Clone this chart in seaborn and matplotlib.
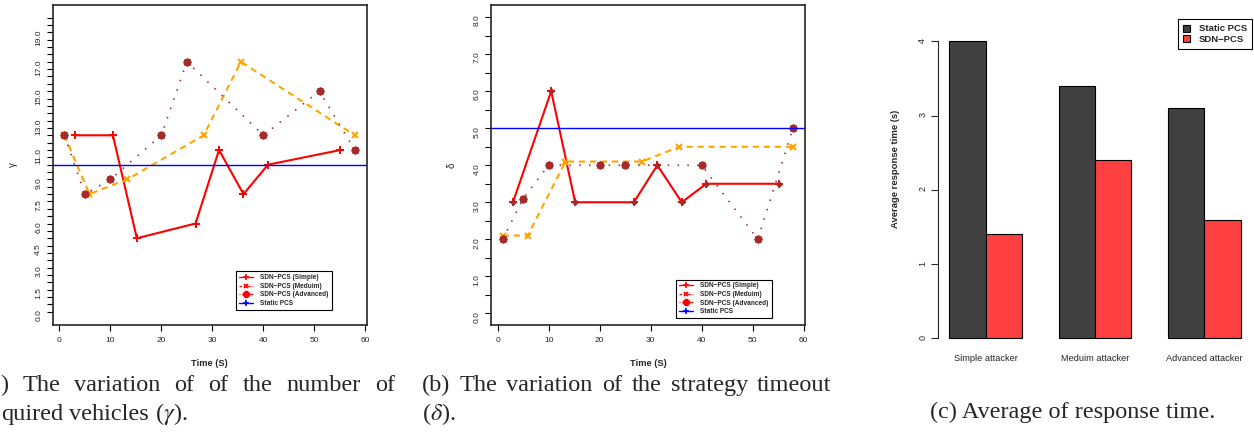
import numpy as np
import pandas as pd
import matplotlib
matplotlib.use("Agg")
import matplotlib.pyplot as plt
import seaborn as sns
from matplotlib.lines import Line2D
from matplotlib.patches import Patch
from matplotlib.ticker import FixedLocator, FuncFormatter

# ---- data ----
simple_t = [3, 10.5, 15.2, 26.7, 31.3, 36.1, 40.9, 55.1]
medium_t = [1, 5.9, 13.3, 28.3, 35.6, 57.9]
advanced_t = [1, 5, 10, 20, 25, 40, 51, 57.9]

gamma_simple = [12, 12, 5, 6, 11, 8, 10, 11]
gamma_medium = [12, 8, 9, 12, 17, 12]
gamma_advanced = [12, 8, 9, 12, 17, 12, 15, 11]
gamma_static = 10

delta_simple = [3, 6, 3, 3, 4, 3, 3.5, 3.5]
delta_medium = [2.1, 2.1, 4.1, 4.1, 4.5, 4.5]
delta_advanced = [2, 3.1, 4, 4, 4, 4, 2, 5]
delta_static = 5

gamma_tick_labels = ['0.0', '1.5', '3.0', '4.5', '6.0', '7.5', '9.0',
                     '11.0', '13.0', '15.0', '17.0', '19.0']
delta_tick_labels = ['0.0', '1.0', '2.0', '3.0', '4.0', '5.0', '6.0', '7.0', '8.0']

attackers = ['Simple attacker', 'Meduim attacker', 'Advanced attacker']
static_resp = [4.0, 3.4, 3.1]
sdn_resp = [1.4, 2.4, 1.6]

series_names = ['SDN\u2212PCS (Simple)', 'SDN\u2212PCS (Meduim)',
                'SDN\u2212PCS (Advanced)', 'Static PCS']

W, H = 1254, 441
sns.set_style("ticks")
plt.rcParams['font.family'] = ['Liberation Sans', 'DejaVu Sans']
plt.rcParams['mathtext.fontset'] = 'stix'

fig = plt.figure(figsize=(W / 100, H / 100), dpi=100)


def px_axes(x0, y0, x1, y1):
    return fig.add_axes([x0 / W, 1 - y1 / H, (x1 - x0) / W, (y1 - y0) / H])


def draw_lines(ax, ys, static, diamond=False):
    s, m, a = ys
    sns.lineplot(x=simple_t, y=s, ax=ax, color='red', linewidth=1.5,
                 marker='+', markersize=6, markeredgewidth=1.4,
                 markeredgecolor='red', errorbar=None, zorder=3)
    if diamond:
        ax.plot(simple_t, s, 'D', color='brown', markersize=2.6, zorder=4)
    sns.lineplot(x=medium_t, y=m, ax=ax, color='orange', linewidth=1.5,
                 linestyle=(0, (3, 2.3)), marker='x', markersize=4.5,
                 markeredgewidth=1.5, markeredgecolor='orange',
                 errorbar=None, zorder=3)
    sns.lineplot(x=advanced_t, y=a, ax=ax, color='brown', linewidth=1.2,
                 linestyle=(0, (0.9, 5)), marker=(8, 1, 0), markersize=7,
                 markeredgewidth=0, markerfacecolor='brown',
                 errorbar=None, zorder=3)
    ax.plot(advanced_t, a, 'o', color='brown', markersize=4.8, zorder=3)
    ax.axhline(static, color='blue', linewidth=1.0, zorder=5)


def legend_lines(ax, anchor):
    handles = [
        Line2D([], [], color='red', lw=1.0, marker='+', ms=5, mew=1.2),
        Line2D([], [], color='red', lw=0.9, ls=(0, (2, 1.5)), marker='x',
               ms=3.5, mew=1.3),
        Line2D([], [], color='red', lw=0.9, ls=(0, (0.8, 1.5, 2.5, 1.5)),
               marker='8', ms=4),
        Line2D([], [], color='blue', lw=1.0, marker='+', ms=5, mew=1.2),
    ]
    leg = ax.legend(handles, series_names, loc='lower left', bbox_to_anchor=anchor,
                    borderaxespad=0, prop={'weight': 'bold', 'size': 4.7},
                    frameon=True, fancybox=False, edgecolor='black', framealpha=1,
                    handlelength=2.2, handletextpad=1.1, labelspacing=0.25,
                    borderpad=0.45)
    leg.get_frame().set_linewidth(0.8)


def style_line_axes(ax, ylim, yticks, label_vals, labels, ylab):
    ax.set_xlim(-1.3, 60.25)
    ax.set_ylim(*ylim)
    ax.set_xticks(range(0, 61, 10))
    ax.yaxis.set_major_locator(FixedLocator(yticks))
    lab = {round(v, 2): t for v, t in zip(label_vals, labels)}
    ax.yaxis.set_major_formatter(FuncFormatter(lambda v, p: lab.get(round(v, 2), '')))
    ax.tick_params(axis='both', length=4, width=0.8, labelsize=6, color='black')
    ax.tick_params(axis='y', labelrotation=90, pad=3.5)
    ax.tick_params(axis='x', pad=5)
    for sp in ax.spines.values():
        sp.set_visible(True)
        sp.set_linewidth(1.2)
    ax.set_xlabel('Time (S)', fontsize=6.7, fontweight='bold')
    ax.xaxis.label.set_va('center')
    ax.xaxis.set_label_coords(0.5, -0.119)
    ax.set_ylabel(ylab, fontsize=7)
    ax.yaxis.label.set_va('center')


# (a) gamma
ax_a = px_axes(52.7, 5, 366.7, 325)
draw_lines(ax_a, (gamma_simple, gamma_medium, gamma_advanced), gamma_static)
style_line_axes(ax_a, (-0.9, 20.86), np.arange(0, 20.01, 0.5),
                [float(t) for t in gamma_tick_labels], gamma_tick_labels, '\u03b3')
ax_a.yaxis.set_label_coords((13 - 52.7) / 314, 0.5)
legend_lines(ax_a, ((236 - 52.7) / 314, (325 - 310) / 320))

# (b) delta
ax_b = px_axes(491, 5, 805, 325)
draw_lines(ax_b, (delta_simple, delta_medium, delta_advanced), delta_static, diamond=True)
style_line_axes(ax_b, (-0.316, 8.33), np.arange(0, 8.01, 0.5),
                [float(t) for t in delta_tick_labels], delta_tick_labels, '\u03b4')
ax_b.yaxis.set_label_coords((452 - 491) / 314, 0.5)
legend_lines(ax_b, ((676 - 491) / 314, (325 - 318.3) / 320))

# (c) response time bars
resp = pd.DataFrame({
    'attacker': attackers * 2,
    'system': ['Static PCS'] * 3 + ['SDN\u2212PCS'] * 3,
    'time': static_resp + sdn_resp,
})
bar_colors = {'Static PCS': '#404040', 'SDN\u2212PCS': '#FF4040'}
ax_c = px_axes(937.6, 19.2, 1252.3, 350.2)
sns.barplot(data=resp, x='attacker', y='time', hue='system', palette=bar_colors,
            saturation=1, width=2 / 3, gap=0, edgecolor='black', linewidth=0.8,
            errorbar=None, legend=False, ax=ax_c)
ax_c.set_xlim(-0.44, 2.44)
ax_c.set_ylim(-0.16, 4.3)
ax_c.set_yticks([0, 1, 2, 3, 4])
ax_c.set_yticklabels(['0', '1', '2', '3', '4'])
for side in ['top', 'right', 'bottom']:
    ax_c.spines[side].set_visible(False)
ax_c.spines['left'].set_bounds(0, 4)
ax_c.spines['left'].set_linewidth(0.8)
ax_c.tick_params(axis='y', length=4.8, width=0.8, labelsize=6.5, labelrotation=90, pad=2.7)
ax_c.tick_params(axis='x', length=0, labelsize=6.7, pad=3)
ax_c.set_xlabel('')
ax_c.set_ylabel('Average response time (s)', fontsize=6.8, fontweight='bold')
ax_c.yaxis.label.set_va('center')
ax_c.yaxis.set_label_coords((896 - 937.6) / 314.7, (350.2 - 168.5) / 331)
bar_handles = [Patch(facecolor=c, edgecolor='black', linewidth=0.8) for c in bar_colors.values()]
leg = ax_c.legend(bar_handles, list(bar_colors.keys()), loc='upper right', borderaxespad=0,
                  prop={'weight': 'bold', 'size': 6.8}, frameon=True, fancybox=False,
                  edgecolor='black', framealpha=1, handlelength=0.75, handleheight=0.75,
                  handletextpad=0.95, labelspacing=0.12, borderpad=0.55)
leg.get_frame().set_linewidth(0.8)

# ---- captions (justified like the LaTeX source) ----
renderer = fig.canvas.get_renderer()
cap_size = 17.5
serif = ['Liberation Serif', 'DejaVu Serif']


def caption_line(words, x0, ybase, x1=None):
    texts = [fig.text(0, 0, w, fontsize=cap_size, family=serif,
                      va='baseline', ha='left') for w in words]
    widths = [t.get_window_extent(renderer).width for t in texts]
    if x1 is None or len(words) < 2:
        gap = cap_size * 100 / 72 * 0.25
    else:
        gap = (x1 - x0 - sum(widths)) / (len(words) - 1)
    x = x0
    for t, w in zip(texts, widths):
        t.set_position((x / W, 1 - ybase / H))
        x += w + gap


caption_line(') The variation of of the number of'.split(), 0, 391, 395)
caption_line(['quired', 'vehicles', r'($\gamma$).'], 1, 420)
caption_line('(b) The variation of the strategy timeout'.split(), 421.7, 391, 831.7)
caption_line([r'($\delta$).'], 421.7, 420)
fig.text(1072.5 / W, 1 - 418 / H, '(c) Average of response time.', fontsize=cap_size,
         family=serif, va='baseline', ha='center')

fig.savefig('out.png', dpi=100)
